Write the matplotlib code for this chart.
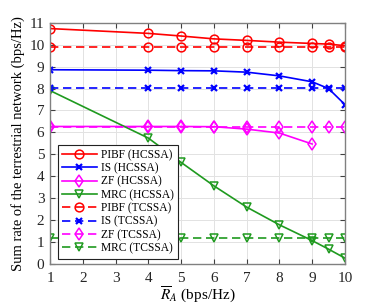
import matplotlib
matplotlib.use('Agg')
import matplotlib.pyplot as plt

plt.rcParams['font.family'] = ['Liberation Serif', 'DejaVu Serif']
plt.rcParams['mathtext.fontset'] = 'stix'

# Data
R_A = [1, 4, 5, 6, 7, 8, 9, 9.5, 10]
R_A_ZF = [1, 4, 5, 6, 7, 8, 9]

pibf_hc = [10.74, 10.52, 10.40, 10.27, 10.20, 10.12, 10.06, 10.03, 9.96]
is_hc = [8.86, 8.84, 8.82, 8.81, 8.75, 8.58, 8.31, 8.00, 7.27]
zf_hc = [6.27, 6.27, 6.27, 6.26, 6.15, 5.97, 5.47]
mrc_hc = [7.91, 5.74, 4.63, 3.56, 2.59, 1.78, 1.06, 0.67, 0.26]

pibf_tc = [9.92] * len(R_A)
is_tc = [8.02] * len(R_A)
zf_tc = [6.24] * len(R_A)
mrc_tc = [1.19] * len(R_A)

X_TICKS = list(range(1, 11))
Y_TICKS = list(range(0, 12))

RED = '#ff0000'
BLUE = '#0000ff'
MAGENTA = '#ff00ff'
GREEN = '#1f9a1f'

fig = plt.figure(figsize=(3.82, 3.05), dpi=100)
ax = fig.add_axes([0.131, 0.135, 0.772, 0.79])

common = dict(linewidth=1.2, markersize=6.3, markerfacecolor='none', markeredgewidth=1.1)
cross = dict(linewidth=1.2, markersize=5, markeredgewidth=1.6)
dash = (0, (5, 2.8))

ax.plot(R_A, pibf_hc, color=RED, marker='o', linestyle='-', label='PIBF (HCSSA)', **common)
ax.plot(R_A, is_hc, color=BLUE, marker='x', linestyle='-', label='IS (HCSSA)', **cross)
ax.plot(R_A_ZF, zf_hc, color=MAGENTA, marker='d', linestyle='-', label='ZF (HCSSA)', **common)
ax.plot(R_A, mrc_hc, color=GREEN, marker='v', linestyle='-', label='MRC (HCSSA)', **common)
ax.plot(R_A, pibf_tc, color=RED, marker='o', linestyle=dash, label='PIBF (TCSSA)', **common)
ax.plot(R_A, is_tc, color=BLUE, marker='x', linestyle=dash, label='IS (TCSSA)', **cross)
ax.plot(R_A, zf_tc, color=MAGENTA, marker='d', linestyle=dash, label='ZF (TCSSA)', **common)
ax.plot(R_A, mrc_tc, color=GREEN, marker='v', linestyle=dash, label='MRC (TCSSA)', **common)

ax.set_xlim(1, 10)
ax.set_ylim(0, 11)
ax.set_xticks(X_TICKS)
ax.set_yticks(Y_TICKS)
ax.grid(True, color='#e2e2e2', linewidth=0.7)
ax.set_axisbelow(True)

for spine in ax.spines.values():
    spine.set_color('#808080')
    spine.set_linewidth(1.0)
ax.tick_params(direction='in', top=True, right=True, length=3.5, width=0.8,
               color='#404040', labelsize=11, labelcolor='#262626')
ax.tick_params(axis='x', pad=6)
ax.tick_params(axis='y', pad=4)

ax.set_xlabel(r'$\overline{R}_A$ (bps/Hz)', fontsize=11, labelpad=0)
ax.set_ylabel('Sum rate of the terrestrial network (bps/Hz)', fontsize=10.5, labelpad=3)

leg = ax.legend(loc='lower left', bbox_to_anchor=(0.027, 0.022), fontsize=8.3,
                frameon=True, fancybox=False, framealpha=1, edgecolor='#222222',
                handlelength=3.0, handletextpad=0.4, labelspacing=0.12,
                borderpad=0.35, borderaxespad=0)
leg.get_frame().set_linewidth(0.8)

fig.savefig('out.png', dpi=100)
